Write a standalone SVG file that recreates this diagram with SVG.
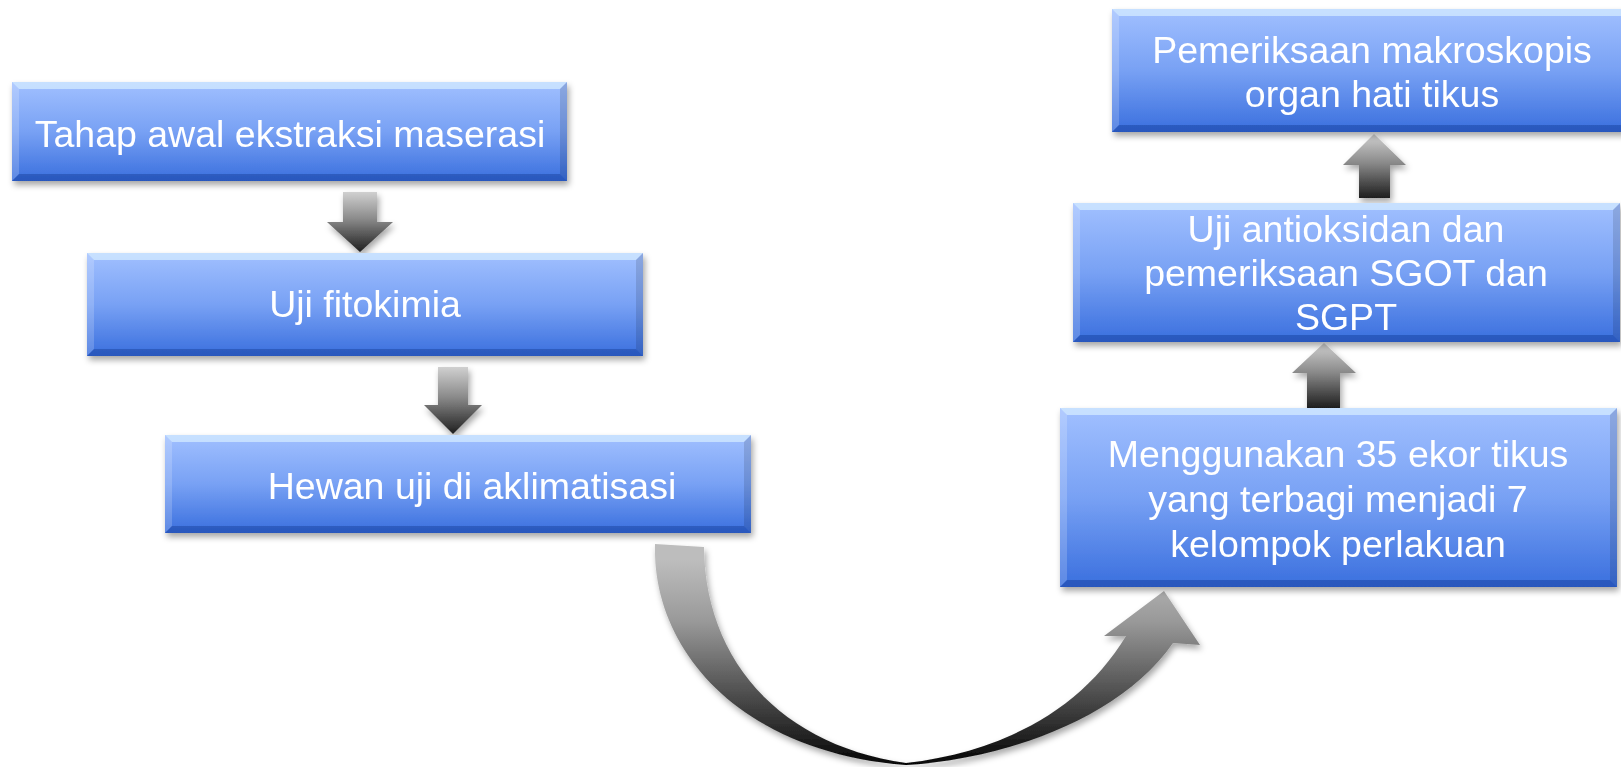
<svg xmlns="http://www.w3.org/2000/svg" width="1621" height="767" viewBox="0 0 1621 767">
<style>
text{font-family:"Liberation Sans",Arial,sans-serif;font-size:37.5px;fill:#ffffff;text-anchor:middle}
.box{fill:url(#boxGrad)}
.bt{fill:#e8fbff;opacity:0.55}
.bl{fill:#ffffff;opacity:0.18}
.br{fill:#000000;opacity:0.12}
.bb{fill:#0a2a80;opacity:0.35}
.arr{fill:url(#arrGrad);filter:url(#sh)}
</style>
<defs>
<linearGradient id="boxGrad" x1="0" y1="0" x2="0" y2="1">
<stop offset="0" stop-color="#a1c0ff"/>
<stop offset="0.5" stop-color="#78a1f4"/>
<stop offset="1" stop-color="#3a6fde"/>
</linearGradient>
<linearGradient id="arrGrad" x1="0" y1="0" x2="0" y2="1">
<stop offset="0" stop-color="#d0d0d0"/>
<stop offset="0.45" stop-color="#8a8a8a"/>
<stop offset="1" stop-color="#1e1e1e"/>
</linearGradient>
<linearGradient id="curveGrad" gradientUnits="userSpaceOnUse" x1="0" y1="560" x2="0" y2="765">
<stop offset="0" stop-color="#bdbdbd"/>
<stop offset="0.3" stop-color="#999999"/>
<stop offset="1" stop-color="#050505"/>
</linearGradient>
<filter id="sh" x="-10%" y="-10%" width="120%" height="130%">
<feDropShadow dx="2" dy="4" stdDeviation="3" flood-color="#000" flood-opacity="0.35"/>
</filter>
</defs>

<g id="connectors">
<path id="c1" class="arr" d="M343,192 H377 V222 H393 L360,252 L327,222 H343 Z"/>
<path id="c2" class="arr" d="M438,367 H468 V405 H482 L453,434 L424,405 H438 Z"/>
<path id="c3" fill="url(#curveGrad)" filter="url(#sh)" d="M655,544 C652,650 740,752 906,765 C1000,760 1120,720 1173,643 L1200,645 L1164,591 L1104,636 L1126,636 C1080,712 1000,752 906,763 C780,745 705,660 704,547 Z"/>
<path id="c4" class="arr" d="M1324,343 L1356,373 H1340 V408 H1307 V373 H1292 Z"/>
<path id="c5" class="arr" d="M1374,134 L1406,165 H1390 V198 H1359 V165 H1343 Z"/>
</g>

<g id="n1" filter="url(#sh)">
<rect class="box" x="12" y="82" width="555" height="99"/>
<polygon class="bt" points="12,82 567,82 560,89 19,89"/>
<polygon class="bl" points="12,82 19,89 19,174 12,181"/>
<polygon class="br" points="567,82 567,181 560,174 560,89"/>
<polygon class="bb" points="12,181 19,174 560,174 567,181"/>
<text x="290" y="147">Tahap awal ekstraksi maserasi</text>
</g>

<g id="n2" filter="url(#sh)">
<rect class="box" x="87" y="253" width="556" height="103"/>
<polygon class="bt" points="87,253 643,253 636,260 94,260"/>
<polygon class="bl" points="87,253 94,260 94,349 87,356"/>
<polygon class="br" points="643,253 643,356 636,349 636,260"/>
<polygon class="bb" points="87,356 94,349 636,349 643,356"/>
<text x="365" y="317">Uji fitokimia</text>
</g>

<g id="n3" filter="url(#sh)">
<rect class="box" x="165" y="435" width="586" height="98"/>
<polygon class="bt" points="165,435 751,435 744,442 172,442"/>
<polygon class="bl" points="165,435 172,442 172,526 165,533"/>
<polygon class="br" points="751,435 751,533 744,526 744,442"/>
<polygon class="bb" points="165,533 172,526 744,526 751,533"/>
<text x="472" y="499">Hewan uji di aklimatisasi</text>
</g>

<g id="n4" filter="url(#sh)">
<rect class="box" x="1112" y="9" width="524" height="123"/>
<polygon class="bt" points="1112,9 1636,9 1629,16 1119,16"/>
<polygon class="bl" points="1112,9 1119,16 1119,125 1112,132"/>
<polygon class="bb" points="1112,132 1119,125 1629,125 1636,132"/>
<text x="1372" y="63">Pemeriksaan makroskopis</text>
<text x="1372" y="107">organ hati tikus</text>
</g>

<g id="n5" filter="url(#sh)">
<rect class="box" x="1073" y="203" width="547" height="139"/>
<polygon class="bt" points="1073,203 1620,203 1613,210 1080,210"/>
<polygon class="bl" points="1073,203 1080,210 1080,335 1073,342"/>
<polygon class="br" points="1620,203 1620,342 1613,335 1613,210"/>
<polygon class="bb" points="1073,342 1080,335 1613,335 1620,342"/>
<text x="1346" y="242">Uji antioksidan dan</text>
<text x="1346" y="286">pemeriksaan SGOT dan</text>
<text x="1346" y="330">SGPT</text>
</g>

<g id="n6" filter="url(#sh)">
<rect class="box" x="1060" y="408" width="557" height="179"/>
<polygon class="bt" points="1060,408 1617,408 1610,415 1067,415"/>
<polygon class="bl" points="1060,408 1067,415 1067,580 1060,587"/>
<polygon class="br" points="1617,408 1617,587 1610,580 1610,415"/>
<polygon class="bb" points="1060,587 1067,580 1610,580 1617,587"/>
<text x="1338" y="467">Menggunakan 35 ekor tikus</text>
<text x="1338" y="512">yang terbagi menjadi 7</text>
<text x="1338" y="557">kelompok perlakuan</text>
</g>
</svg>
